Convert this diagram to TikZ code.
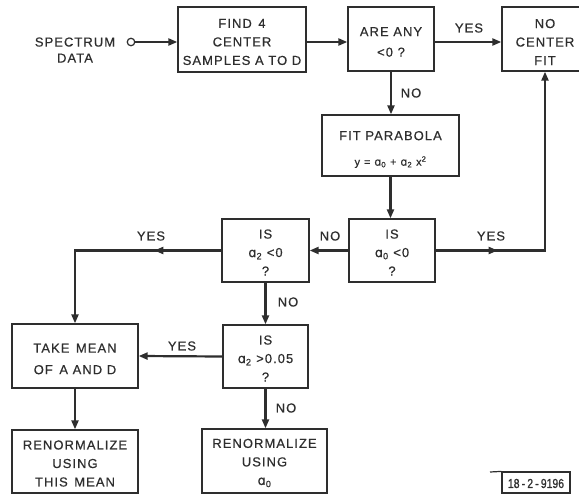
\documentclass[tikz,border=0pt]{standalone}
\usepackage{fontspec}
\setmainfont[LetterSpace=8,FakeBold=0.6]{Liberation Sans}
\newfontfamily\dvfont[FakeBold=0.6]{DejaVu Sans}
\newfontfamily\tagfont[FakeStretch=0.8,FakeBold=1.2]{Liberation Sans}
\usetikzlibrary{arrows.meta}
\newcommand{\alp}{{\dvfont ɑ}}
\definecolor{ink}{gray}{0.18}
\tikzset{
  box/.style={draw=ink, line width=1.3pt, inner sep=0pt},
  boxtext/.style={align=center, inner sep=0pt, text=ink, font=\fontsize{13}{18.5}\selectfont},
  flow/.style={draw=ink, line width=2.2pt, -{Triangle[length=9pt,width=7pt]}},
  lbl/.style={text=ink, font=\fontsize{13}{15}\selectfont, inner sep=0pt},
}
% #1 name, #2 position, #3 width, #4 height, #5 shift down, #6 text
\newcommand{\bx}[6]{%
  \node[box, minimum width=#3, minimum height=#4] (#1) at #2 {};
  \node[boxtext] (#1-t) at ([yshift=-#5]#1.center) {#6};}
\begin{document}
\begin{tikzpicture}[x=1pt,y=-1pt]
\useasboundingbox (0,0) rectangle (579,498);
% boxes
\bx{find}{(242,39.5)}{128pt}{65pt}{2.5pt}{FIND\enspace 4\\CENTER\\SAMPLES A TO D}
\bx{any}{(391,39)}{86pt}{64pt}{3pt}{ARE ANY\\[2pt]<0 ?}
\bx{nofit}{(545,39)}{86pt}{64pt}{3pt}{NO\\CENTER\\FIT}
\bx{fit}{(390.5,145.5)}{137pt}{61pt}{4pt}{FIT PARABOLA\\[7pt]{\fontsize{11}{12}\selectfont y = \alp\textsubscript{0} + \alp\textsubscript{2} x\textsuperscript{2}}}
\bx{azero}{(392,250.5)}{86pt}{63pt}{2pt}{IS\\\alp\textsubscript{0} <0\\?}
\bx{atwo}{(265.5,250.5)}{87pt}{63pt}{2pt}{IS\\\alp\textsubscript{2} <0\\?}
\bx{abig}{(265.5,356.5)}{85pt}{63pt}{2pt}{IS\\\alp\textsubscript{2} >0.05\\?}
\bx{mean}{(75,356)}{126pt}{64pt}{3pt}{TAKE\enspace MEAN\\[3pt]OF\enspace A AND D}
\bx{renl}{(75,461.5)}{126pt}{63pt}{2pt}{RENORMALIZE\\USING\\THIS\enspace MEAN}
\bx{renr}{(264.5,461)}{125pt}{64pt}{2pt}{RENORMALIZE\\USING\\\alp\textsubscript{0}}
% input
\node[lbl, align=center, font=\fontsize{13}{16}\selectfont] (spectext) at (75,50) {SPECTRUM\\DATA};
\node[draw=ink, line width=1.2pt, circle, minimum size=7.5pt, inner sep=0pt] (spec) at (131,42) {};
% connectors
\draw[flow] (spec.east) -- (spec -| find.west);
\draw[flow] (find.east |- spec) -- (any.west |- spec);
\draw[flow] (any.east |- spec) -- (nofit.west |- spec);
\draw[flow] (any.south) -- (any.south |- fit.north);
\draw[flow] (fit.south) -- (fit.south |- azero.north);
\draw[flow] (azero.west) -- (atwo.east);
\draw[flow] (azero.east) -- ++(62,0);
\draw[flow] (azero.east) -| (nofit.south);
\draw[flow] (atwo.west) -- ++(-67,0);
\draw[flow] (atwo.west) -| (mean.north);
\draw[flow] (atwo.south) -- (abig.north);
\draw[flow] (abig.west) -- (mean.east);
\draw[flow] (mean.south) -- (renl.north);
\draw[flow] (abig.south) -- (abig.south |- renr.north);
% labels
\node[lbl] (l1) at (469,28) {YES};
\node[lbl] (l2) at (411,93) {NO};
\node[lbl] (l3) at (330,236) {NO};
\node[lbl] (l4) at (491,236) {YES};
\node[lbl] (l5) at (151,236) {YES};
\node[lbl] (l6) at (288,302) {NO};
\node[lbl] (l7) at (182,346) {YES};
\node[lbl] (l8) at (286,408) {NO};
% tag
\node[draw=ink, line width=1.2pt, minimum width=68pt, minimum height=21pt, inner sep=0pt] (tag) at (536,482.5) {};
\node[text=ink, inner sep=0pt, font={\tagfont\fontsize{13}{14}\selectfont}] (tagtext) at ([yshift=-1pt]tag.center) {18\,-\,2\,-\,9196};
\coordinate (tagl) at (490,472);
\draw[draw=ink, line width=1.2pt] (tagl) -- (tag.north west);
\end{tikzpicture}
\end{document}
